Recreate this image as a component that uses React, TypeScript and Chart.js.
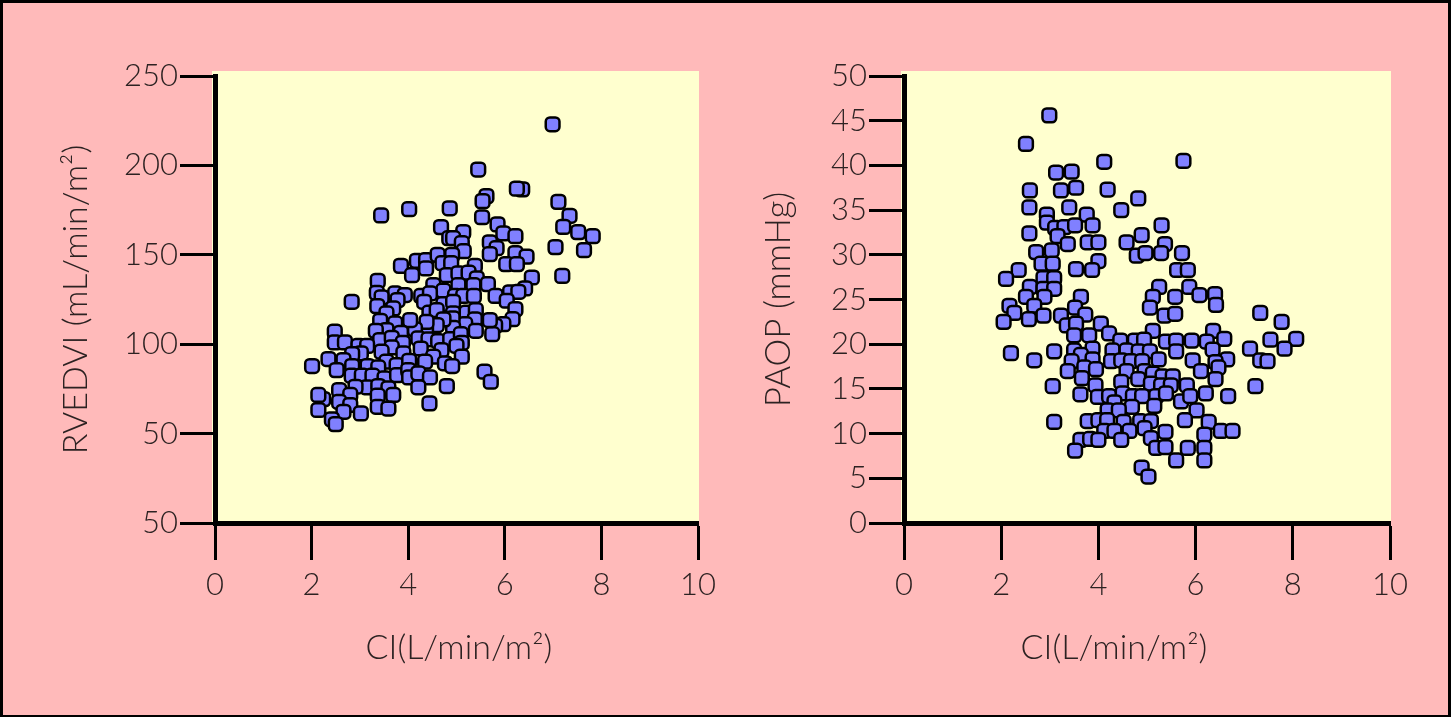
import React, { useEffect, useRef } from "react";
import { Chart, registerables } from "chart.js";

Chart.register(...registerables);

const xTicksLabels = ["0", "2", "4", "6", "8", "10"];
const rvediTickLabels = ["50", "50", "100", "150", "200", "250"];
const paopTickLabels = ["0", "5", "10", "15", "20", "25", "30", "35", "40", "45", "50"];
const xTitle = "CI(L/min/m²)";
const rvediTitle = "RVEDVI (mL/min/m²)";
const paopTitle = "PAOP (mmHg)";

const rvediPoints: number[][] = [
  [6.99,223],[5.45,197.7],[6.36,186.6],[6.25,187],[5.62,182.8],[5.54,180],[3.44,172],[4.02,175.5],[4.86,176],[5.53,171],
  [7.11,179.6],[7.34,171.8],[7.21,165.6],[7.52,162.7],[7.82,160.4],[7.05,154.3],[7.64,152.6],[5.85,167],[5.97,162],[6.22,160.4],
  [4.68,165.5],[5.14,162.7],[4.85,159.3],[4.93,159.3],[5.11,156.5],[5.15,152],[4.91,150],[5.69,157],[5.83,153.7],[5.69,150.4],
  [6.22,151],[6.45,149],[6.03,144.8],[6.25,144.8],[3.85,143.8],[4.18,146.6],[4.37,147],[4.61,150],[4.71,145.3],[4.89,145.3],
  [5.38,143.8],[7.19,138.2],[6.56,137.3],[6.42,131.2],[4.08,138.6],[4.37,142.4],[4.8,138.6],[5.04,139.6],[5.25,140],[5.42,136.8],
  [5.65,133.6],[4.52,133],[4.73,129.9],[5.04,133],[5.35,133],[3.37,135.4],[3.35,128.7],[3.73,128.4],[3.93,127.5],[3.45,126.2],
  [4.27,127],[4.45,128.4],[4.33,123.7],[4.97,127],[5.14,127],[5.36,127],[5.81,127],[6.11,129],[6.28,129.3],[6.04,124.3],
  [6.22,119.6],[6.16,114],[5.97,111.2],[5.8,110.3],[5.74,105.6],[5.69,113.5],[2.83,123.7],[3.78,124.7],[3.36,121.3],[3.69,120],
  [3.55,117.2],[4.44,117.6],[4.73,122.4],[4.93,123.7],[4.59,119],[4.93,117.2],[5.21,117.6],[5.4,119],[5.38,113.9],[5.18,111.2],
  [4.92,114.4],[4.93,109.2],[4.73,113.9],[4.59,110.7],[4.37,107.9],[4.38,112.5],[4.14,108.3],[4.04,113.5],[4.21,103.2],[3.42,113.1],
  [3.73,111.6],[3.55,107.9],[3.33,107.5],[3.85,106.4],[3.42,102.3],[3.66,103.6],[3.89,100.8],[4.42,102.7],[4.62,101.7],[4.87,102.9],
  [5.09,105.6],[5.4,107.5],[5.11,100.8],[4.26,97.6],[4.69,96.7],[5,99.1],[3.66,98.2],[3.45,95.8],[3.9,94.9],[4.52,93],
  [5.11,93],[3.55,90.2],[3.76,88.3],[4.02,90.7],[4.35,90.2],[4.76,89.3],[4.91,87.8],[2.48,107],[2.48,101],[2.69,101],
  [2.97,99],[3.15,99],[3.02,94.9],[2.84,94.5],[2.35,91.7],[2.66,91.1],[2.01,87.8],[2.52,85.5],[2.84,87.8],[3.16,87.8],
  [3.38,87],[2.83,82.4],[3.04,82.4],[3.26,82.4],[3.51,80.9],[3.77,82.7],[4,85.5],[4.02,81.4],[4.21,83.7],[4.45,81.4],
  [5.58,84.6],[5.71,79],[4.8,76.6],[4.21,75.9],[4.44,66.9],[3.15,75.9],[3.38,76.6],[2.91,76.2],[3.59,75.3],[2.57,74.3],
  [2.8,71.6],[3.37,71.2],[3.69,71.6],[2.57,67.8],[2.8,66],[2.24,69.3],[2.14,63.2],[2.66,62.2],[3.02,61.3],[3.37,65],
  [3.59,64],[2.42,58],[2.5,55.3],[2.14,71.6]
];

const paopPoints: number[][] = [
  [2.99,45.6],[2.51,42.4],[4.12,40.4],[5.75,40.5],[3.13,39.2],[3.45,39.3],[2.59,37.2],[3.23,37.2],[3.54,37.5],[4.19,37.3],
  [4.82,36.3],[2.58,35.3],[3.4,35.3],[4.47,35],[2.94,34.5],[3.76,34.5],[2.94,33.6],[3.11,33],[3.3,33.1],[3.52,33.3],
  [3.88,33.3],[5.3,33.3],[2.58,32.4],[3.16,32.1],[4.89,32.2],[3.37,31.2],[3.78,31.4],[4,31.4],[4.58,31.4],[5.37,31.2],
  [2.72,30.3],[3.04,30.5],[4.79,29.9],[4.97,30.2],[5.29,30.2],[5.72,30.2],[2.83,29],[3.06,29],[4,29.3],[3.54,28.4],
  [3.87,28.3],[5.62,28.3],[5.84,28.3],[2.36,28.3],[2.1,27.3],[2.87,27.4],[3.09,27.4],[2.59,26.4],[2.87,26.2],[3.09,26.2],
  [5.25,26.4],[5.87,26.4],[6.08,25.5],[6.4,25.6],[2.51,25.3],[2.89,25.3],[3.64,25.3],[5.12,25.3],[5.58,25.3],[2.17,24.3],
  [2.68,24.3],[3.52,24.1],[5.06,24.1],[6.42,24.4],[2.27,23.5],[2.05,22.5],[2.57,22.8],[2.87,23.2],[3.23,23.2],[3.73,23.3],
  [5.36,23.2],[5.58,23.4],[7.33,23.5],[7.77,22.5],[3.35,22.1],[3.54,22.3],[4.05,22.3],[3.5,21],[3.81,21],[4.22,21.2],
  [5.12,21.5],[6.36,21.5],[4.45,20.4],[4.75,20.4],[4.94,20.5],[5.39,20.3],[5.6,20.4],[5.92,20.4],[6.23,20.3],[6.59,20.6],
  [7.54,20.5],[8.07,20.6],[7.12,19.5],[7.83,19.5],[2.2,19],[3.09,19.2],[2.68,18.2],[3.5,19.3],[3.88,19.5],[4.29,19.3],
  [4.58,19.3],[4.83,19.2],[5.06,19.2],[5.6,19.2],[6.35,19.4],[3.64,18.8],[3.45,18.1],[3.88,18.3],[4.26,18.1],[4.47,18.2],
  [4.67,18.1],[4.9,18.1],[5.24,18.3],[5.94,18.2],[6.65,18.3],[6.41,18],[7.33,18.2],[7.48,18.1],[3.37,17],[3.71,17.4],
  [3.95,17.2],[4.58,17],[4.95,17],[5.12,16.7],[5.32,16.4],[5.53,16.4],[6.11,17],[6.47,17.4],[3.66,16.2],[4.82,16.1],
  [4.47,15.8],[5.08,15.6],[6.41,16.1],[3.94,15.4],[3.06,15.3],[5.29,15.4],[5.49,15.4],[5.82,15.4],[7.23,15.3],[3.63,14.4],
  [3.99,14.1],[4.22,14.2],[4.5,14.5],[4.71,14.2],[4.9,14.2],[5.19,14.2],[5.39,14.5],[5.7,13.6],[5.89,14.2],[6.21,14.5],
  [6.67,14.2],[4.33,13.5],[4.69,13],[5.15,13.1],[4.19,12.6],[4.42,12.6],[6.02,12.6],[5.78,11.5],[3.09,11.3],[3.78,11.4],
  [4,11.5],[4.18,11.5],[4.52,11.3],[4.86,11.4],[5.08,11.4],[6.27,11.3],[4.12,10.3],[4.33,10.3],[4.64,10.3],[4.95,10.6],
  [5.38,10.2],[6.52,10.3],[6.76,10.3],[6.18,9.9],[3.63,9.3],[3.83,9.4],[4,9.3],[4.47,9.3],[5.08,9.5],[5.19,8.4],
  [5.38,8.5],[5.84,8.4],[6.18,8.4],[3.52,8.1],[5.6,7],[6.18,7],[4.89,6.2],[5.03,5.2]
];

const FONT = "Lato, 'Open Sans', sans-serif";
const TEXT = "#2c2222";

const plotBackground = {
  id: "plotBackground",
  beforeDraw(chart: any) {
    const { ctx, chartArea } = chart;
    ctx.save();
    ctx.fillStyle = "#ffffcf";
    ctx.fillRect(chartArea.left - 3, chartArea.top - 5, chartArea.right - chartArea.left + 4, chartArea.bottom - chartArea.top + 4);
    ctx.restore();
  },
};

// x-axis title placed off-centre under the plot, as in the source figure
function xTitlePlugin(centerFraction: number) {
  return {
    id: "xTitlePlugin",
    afterDraw(chart: any) {
      const { ctx, chartArea } = chart;
      ctx.save();
      ctx.fillStyle = TEXT;
      ctx.font = `300 34px ${FONT}`;
      ctx.textAlign = "center";
      ctx.textBaseline = "middle";
      ctx.fillText(xTitle, chartArea.left + (chartArea.right - chartArea.left) * centerFraction, chartArea.bottom + 125);
      ctx.restore();
    },
  };
}

function buildConfig(
  points: number[][],
  yMax: number,
  yStep: number,
  yLabels: string[],
  yTitle: string,
  yTitleSize: number,
  pad: { left: number; right: number },
  yWidth: number,
  xTitleCenter: number
): any {
  return {
    type: "scatter",
    data: {
      datasets: [
        {
          data: points.map(([x, y]) => ({ x, y })),
          pointStyle: "rectRounded",
          pointRadius: 8,
          pointBackgroundColor: "#8080ff",
          pointBorderColor: "#000000",
          pointBorderWidth: 2.5,
        },
      ],
    },
    options: {
      responsive: false,
      animation: false,
      layout: { padding: { top: 76, bottom: 41, left: pad.left, right: pad.right } },
      plugins: { legend: { display: false }, tooltip: { enabled: false } },
      scales: {
        x: {
          type: "linear",
          min: 0,
          max: 10,
          afterFit(s: any) { s.height = 153; },
          border: { display: true, color: "#000", width: 5 },
          grid: { drawOnChartArea: false, drawTicks: true, tickLength: 37, tickWidth: 3, tickColor: "#000" },
          ticks: {
            stepSize: 2,
            maxRotation: 0,
            padding: 6,
            color: TEXT,
            font: { family: FONT, size: 31, weight: "300" },
            callback: (_v: any, i: number) => xTicksLabels[i],
          },
        },
        y: {
          type: "linear",
          min: 0,
          max: yMax,
          afterFit(s: any) { s.width = yWidth; },
          border: { display: true, color: "#000", width: 5 },
          grid: { drawOnChartArea: false, drawTicks: true, tickLength: 35, tickWidth: 3, tickColor: "#000" },
          ticks: {
            stepSize: yStep,
            padding: 2,
            color: TEXT,
            font: { family: FONT, size: 31, weight: "300" },
            callback: (_v: any, i: number) => yLabels[i],
          },
          title: { display: true, text: yTitle, color: TEXT, padding: { top: 0, bottom: 0 }, font: { family: FONT, size: yTitleSize, weight: "300" } },
        },
      },
    },
    plugins: [plotBackground, xTitlePlugin(xTitleCenter)],
  };
}

export default function App() {
  const leftRef = useRef<HTMLCanvasElement>(null);
  const rightRef = useRef<HTMLCanvasElement>(null);

  useEffect(() => {
    const left = new Chart(leftRef.current!, buildConfig(rvediPoints, 250, 50, rvediTickLabels, rvediTitle, 34, { left: 56, right: 28 }, 159, 0.505));
    const right = new Chart(rightRef.current!, buildConfig(paopPoints, 50, 5, paopTickLabels, paopTitle, 35, { left: 32, right: 61 }, 146, 0.432));
    return () => {
      left.destroy();
      right.destroy();
    };
  }, []);

  return (
    <div
      style={{
        position: "absolute",
        left: 0,
        top: 0,
        width: 1451,
        height: 717,
        boxSizing: "border-box",
        background: "#ffbaba",
        borderStyle: "solid",
        borderColor: "#000",
        borderWidth: "3px 3px 2px 3px",
        overflow: "hidden",
      }}
    >
      <canvas ref={leftRef} width={726} height={717} style={{ position: "absolute", left: -3, top: -3, width: 726, height: 717 }} />
      <canvas ref={rightRef} width={725} height={717} style={{ position: "absolute", left: 723, top: -3, width: 725, height: 717 }} />
    </div>
  );
}
